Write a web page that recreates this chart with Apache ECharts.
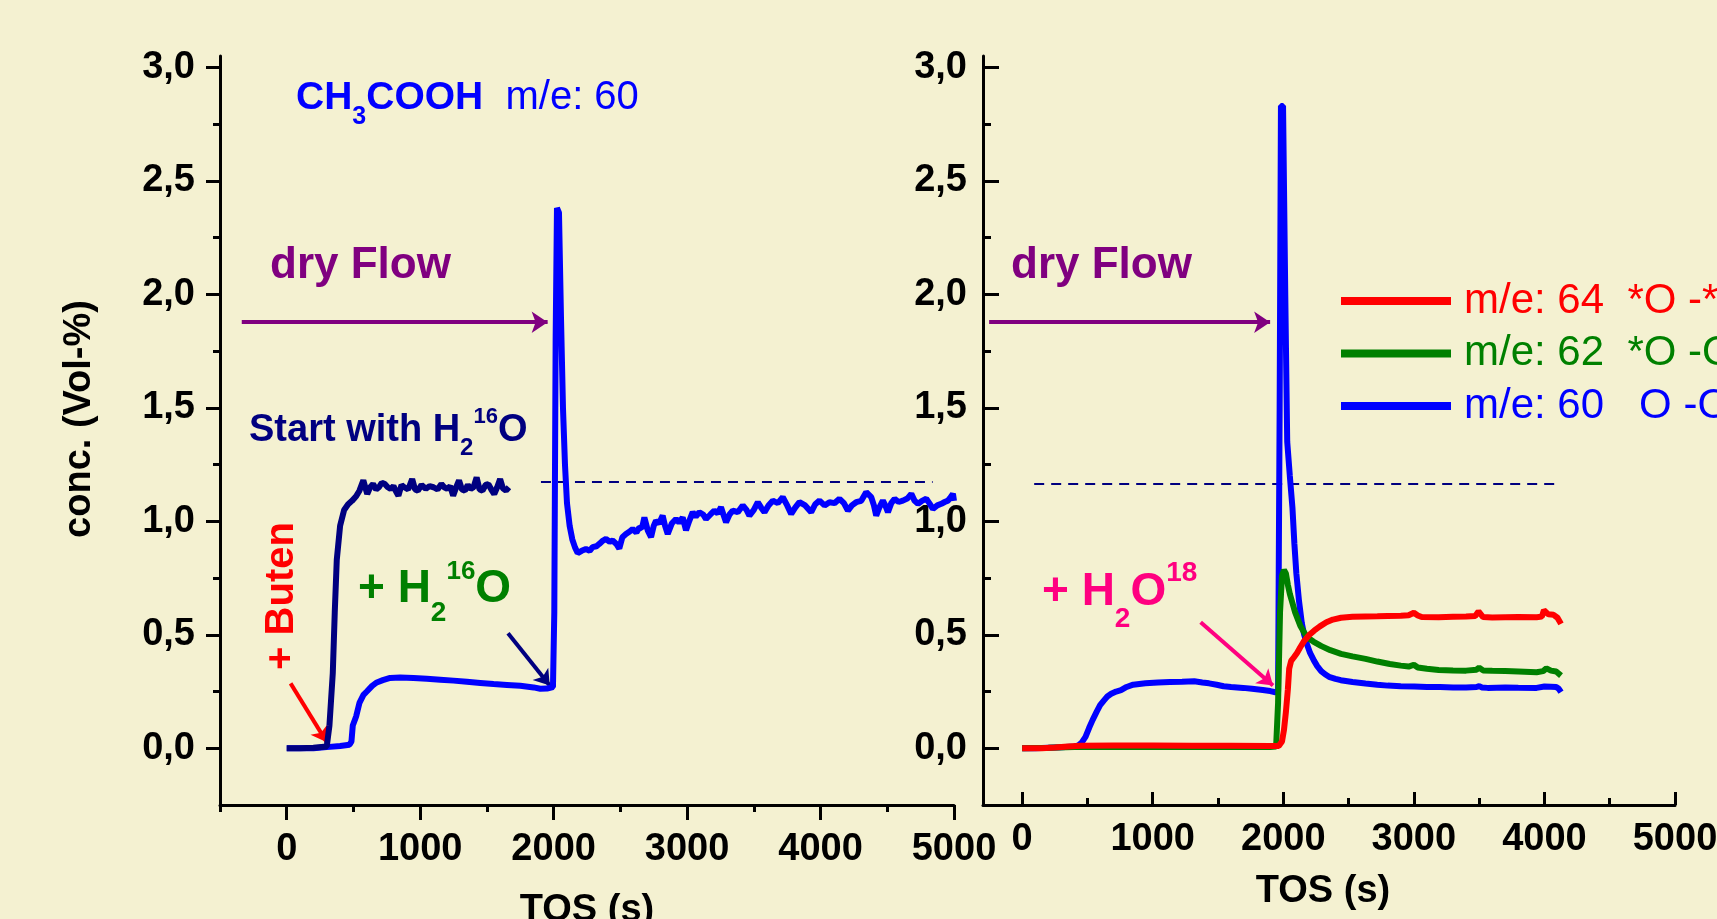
<!DOCTYPE html>
<html><head><meta charset="utf-8">
<script src="https://cdn.jsdelivr.net/npm/echarts@6/dist/echarts.min.js"></script>
<style>html,body{margin:0;padding:0;background:#F4F1D1;}#c{width:1717px;height:919px;}</style>
</head><body><div id="c"></div>
<script>
const FONT = '"Liberation Sans", Arial, Helvetica, sans-serif';

// ---- tick values ----
const yMajorTicks = [0, 0.5, 1, 1.5, 2, 2.5, 3];
const yMinorTicks = [0.25, 0.75, 1.25, 1.75, 2.25, 2.75];
const xMajorTicks = [0, 1000, 2000, 3000, 4000, 5000];
const xMinorTicksLeft = [-500, 500, 1500, 2500, 3500, 4500];
const xMinorTicksRight = [500, 1500, 2500, 3500, 4500];

// ---- left panel series ----
const leftStartH2O = [[0,0],[100,0.0],[200,0.002],[300,0.008],[320,0.1],[345,0.33],[360,0.6],[375,0.83],[400,0.98],[430,1.05],[460,1.075],[489,1.09],[520,1.11],[545,1.135],[574,1.18],[603,1.12],[625,1.15],[647,1.164],[670,1.14],[691,1.15],[712,1.17],[735,1.164],[757,1.15],[778,1.143],[800,1.155],[820,1.13],[837,1.113],[860,1.16],[881,1.15],[910,1.14],[940,1.186],[962,1.14],[983,1.135],[1010,1.16],[1042,1.143],[1070,1.155],[1100,1.15],[1130,1.14],[1159,1.164],[1180,1.15],[1203,1.143],[1225,1.155],[1247,1.113],[1270,1.15],[1291,1.18],[1313,1.14],[1335,1.135],[1357,1.16],[1379,1.143],[1400,1.15],[1423,1.193],[1445,1.14],[1467,1.135],[1490,1.16],[1511,1.164],[1533,1.14],[1555,1.12],[1577,1.15],[1599,1.186],[1620,1.145],[1643,1.135],[1665,1.15]];

const leftAcid60 = [[0,0],[100,0.0],[200,0.0],[300,0.005],[400,0.01],[470,0.015],[485,0.03],[495,0.1],[520,0.14],[545,0.2],[575,0.235],[600,0.25],[640,0.275],[675,0.29],[720,0.3],[775,0.31],[850,0.312],[950,0.31],[1050,0.306],[1150,0.302],[1250,0.298],[1350,0.293],[1450,0.288],[1550,0.283],[1650,0.279],[1750,0.275],[1850,0.268],[1900,0.262],[1950,0.263],[1995,0.27],[2005,0.6],[2015,1.8],[2025,2.38],[2040,2.36],[2055,1.9],[2070,1.5],[2085,1.25],[2100,1.08],[2120,0.98],[2140,0.92],[2160,0.885],[2180,0.86],[2210,0.87],[2242,0.878],[2270,0.87],[2292,0.886],[2320,0.89],[2342,0.9],[2370,0.915],[2392,0.922],[2420,0.91],[2442,0.915],[2470,0.9],[2492,0.88],[2515,0.93],[2542,0.944],[2570,0.955],[2592,0.966],[2620,0.95],[2642,0.973],[2662,0.97],[2680,1.017],[2705,0.96],[2730,0.93],[2750,0.98],[2767,1.003],[2790,0.99],[2817,1.025],[2835,0.98],[2855,0.944],[2885,0.99],[2917,1.01],[2940,0.995],[2967,1.017],[2992,0.96],[3015,1.0],[3042,1.04],[3065,1.02],[3092,1.04],[3120,1.03],[3142,1.01],[3175,1.03],[3204,1.047],[3230,1.035],[3254,1.062],[3272,1.03],[3292,0.996],[3318,1.03],[3342,1.047],[3380,1.04],[3417,1.07],[3445,1.05],[3467,1.025],[3500,1.05],[3530,1.084],[3555,1.06],[3580,1.04],[3610,1.07],[3642,1.091],[3680,1.08],[3717,1.106],[3750,1.07],[3780,1.032],[3810,1.06],[3842,1.084],[3885,1.07],[3930,1.04],[3960,1.075],[3992,1.091],[4030,1.07],[4067,1.084],[4105,1.08],[4142,1.099],[4175,1.08],[4205,1.047],[4235,1.07],[4267,1.084],[4305,1.09],[4342,1.128],[4380,1.106],[4400,1.07],[4417,1.025],[4440,1.06],[4467,1.091],[4485,1.07],[4505,1.04],[4530,1.08],[4555,1.099],[4585,1.085],[4617,1.091],[4650,1.1],[4680,1.121],[4705,1.09],[4730,1.077],[4760,1.09],[4792,1.099],[4815,1.08],[4842,1.055],[4875,1.07],[4905,1.077],[4930,1.085],[4955,1.091],[4980,1.11],[4992,1.121],[5000,1.09]];

// ---- right panel series ----
const rightM60 = [[0,0],[100,0],[200,0.002],[300,0.004],[400,0.008],[430,0.012],[457,0.026],[485,0.05],[513,0.09],[540,0.125],[570,0.16],[597,0.19],[625,0.21],[652,0.228],[682,0.24],[720,0.25],[757,0.256],[800,0.27],[850,0.28],[944,0.286],[1040,0.29],[1131,0.292],[1225,0.293],[1318,0.295],[1380,0.29],[1431,0.286],[1490,0.28],[1543,0.273],[1600,0.27],[1693,0.266],[1760,0.262],[1843,0.257],[1900,0.252],[1940,0.247],[1960,0.25],[1972,1.5],[1982,2.83],[1998,2.83],[2015,2.0],[2030,1.35],[2050,1.2],[2070,1.06],[2085,0.9],[2100,0.77],[2120,0.65],[2142,0.55],[2160,0.5],[2180,0.46],[2205,0.42],[2235,0.386],[2260,0.362],[2290,0.34],[2320,0.326],[2350,0.315],[2400,0.306],[2440,0.3],[2530,0.292],[2630,0.285],[2720,0.28],[2800,0.276],[2900,0.273],[3004,0.272],[3100,0.27],[3200,0.27],[3300,0.268],[3400,0.268],[3480,0.27],[3500,0.274],[3520,0.268],[3565,0.266],[3700,0.268],[3800,0.267],[3940,0.266],[4000,0.272],[4050,0.271],[4090,0.27],[4110,0.262],[4127,0.247]];

const rightM62 = [[0,0],[200,0.002],[400,0.005],[800,0.006],[1200,0.006],[1600,0.006],[1900,0.006],[1945,0.008],[1960,0.2],[1975,0.6],[1990,0.76],[2005,0.785],[2020,0.77],[2035,0.72],[2050,0.68],[2070,0.64],[2090,0.6],[2110,0.57],[2130,0.54],[2160,0.51],[2180,0.49],[2230,0.47],[2292,0.45],[2360,0.432],[2442,0.416],[2530,0.405],[2630,0.394],[2720,0.382],[2816,0.371],[2900,0.364],[2960,0.36],[3000,0.368],[3030,0.356],[3100,0.35],[3190,0.345],[3300,0.343],[3400,0.342],[3480,0.346],[3500,0.355],[3530,0.343],[3600,0.341],[3700,0.34],[3800,0.338],[3940,0.335],[3990,0.34],[4015,0.352],[4050,0.342],[4090,0.338],[4127,0.32]];

const rightM64 = [[0,0],[150,0],[250,0.003],[350,0.008],[450,0.011],[700,0.012],[1000,0.012],[1300,0.011],[1600,0.011],[1900,0.01],[1965,0.01],[1990,0.03],[2005,0.08],[2020,0.16],[2035,0.26],[2045,0.35],[2060,0.385],[2080,0.4],[2105,0.42],[2130,0.445],[2161,0.474],[2200,0.5],[2236,0.518],[2280,0.537],[2330,0.555],[2380,0.567],[2442,0.575],[2530,0.579],[2630,0.581],[2720,0.582],[2800,0.583],[2900,0.584],[2960,0.586],[3000,0.597],[3030,0.585],[3060,0.578],[3190,0.577],[3300,0.579],[3400,0.58],[3470,0.583],[3495,0.603],[3530,0.578],[3600,0.576],[3700,0.577],[3800,0.578],[3940,0.577],[3980,0.58],[3996,0.608],[4030,0.59],[4070,0.588],[4100,0.575],[4127,0.548]];

// ---- annotation arrows / reference lines (data coordinates) ----
const dryFlowArrowLeft = [[-337, 1.877], [1955, 1.877]];
const dryFlowArrowRight = [[-253, 1.877], [1899, 1.877]];
const butenArrow = [[29, 0.286], [301, 0.026]];
const h2o16Arrow = [[1658, 0.507], [1971, 0.276]];
const h2o18Arrow = [[1367, 0.555], [1921, 0.276]];
const refLineLeft = [[1905, 1.172], [4840, 1.172]];
const refLineRight = [[92, 1.166], [4075, 1.166]];

const legendNames = ['m/e: 64  *O -*OH', 'm/e: 62  *O -OH', 'm/e: 60   O -OH'];
const legendColors = ['#FF0000', '#008000', '#0000FF'];

const chart = echarts.init(document.getElementById('c'), null, {renderer: 'canvas'});

const tickLine = {color: '#000', width: 3};
function xAxisPair(grid, min, inside, majorLen, minorLen, margin, minorVals) {
  return [
    {type: 'value', gridIndex: grid, min: min, max: 5000, position: 'bottom',
     axisLine: {show: true, onZero: false, lineStyle: {color: '#000', width: 3}},
     axisTick: {show: true, inside: inside, length: majorLen, lineStyle: tickLine, customValues: xMajorTicks},
     axisLabel: {show: true, customValues: xMajorTicks, margin: margin, color: '#000', fontSize: 38,
                 fontWeight: 'bold', fontFamily: FONT, formatter: v => String(v)},
     splitLine: {show: false}, minorTick: {show: false}},
    {type: 'value', gridIndex: grid, min: min, max: 5000, position: 'bottom',
     axisLine: {show: false, onZero: false},
     axisTick: {show: true, inside: inside, length: minorLen, lineStyle: tickLine, customValues: minorVals},
     axisLabel: {show: false}, splitLine: {show: false}}
  ];
}
function yAxisPair(grid, inside, majorLen, minorLen, margin) {
  return [
    {type: 'value', gridIndex: grid, min: -0.25, max: 3.05, position: 'left',
     axisLine: {show: true, onZero: false, lineStyle: {color: '#000', width: 3}},
     axisTick: {show: true, inside: inside, length: majorLen, lineStyle: tickLine, customValues: yMajorTicks},
     axisLabel: {show: true, customValues: yMajorTicks, margin: margin, color: '#000', fontSize: 38,
                 fontWeight: 'bold', fontFamily: FONT, formatter: v => v.toFixed(1).replace('.', ',')},
     splitLine: {show: false}, minorTick: {show: false}},
    {type: 'value', gridIndex: grid, min: -0.25, max: 3.05, position: 'left',
     axisLine: {show: false, onZero: false},
     axisTick: {show: true, inside: inside, length: minorLen, lineStyle: tickLine, customValues: yMinorTicks},
     axisLabel: {show: false}, splitLine: {show: false}}
  ];
}

function lineSeries(name, data, color, xi, yi, width) {
  return {type: 'line', name: name, data: data, xAxisIndex: xi, yAxisIndex: yi,
          symbol: 'none', showSymbol: false, smooth: false, animation: false,
          itemStyle: {color: color}, lineStyle: {color: color, width: width, join: 'bevel'}};
}
function arrowSeries(coords, color, width, xi, yi, size, dashed) {
  return {type: 'lines', coordinateSystem: 'cartesian2d', xAxisIndex: xi, yAxisIndex: yi, silent: true,
          animation: false, symbol: dashed ? ['none', 'none'] : ['none', 'arrow'], symbolSize: size,
          lineStyle: {color: color, width: width, opacity: 1, curveness: 0, type: dashed ? [10, 7] : 'solid'},
          data: [{coords: coords}]};
}

function txt(x, y, text, rich, extra) {
  const el = Object.assign({type: 'text', x: x, y: y, silent: true, z: 100,
    style: {text: text, rich: rich, align: 'left', textAlign: 'left', verticalAlign: 'middle', textVerticalAlign: 'middle'}}, extra || {});
  return el;
}
function tok(size, weight, color, padding) {
  const t = {fontSize: size, fontWeight: weight, fontFamily: FONT, fill: color, verticalAlign: 'middle'};
  if (padding) t.padding = padding;
  return t;
}
function plain(x, y, text, size, weight, color, align, rot) {
  return {type: 'text', x: x, y: y, rotation: rot || 0, silent: true, z: 100,
    style: {text: text, fontSize: size, fontWeight: weight, fontFamily: FONT, fill: color,
            align: align, textAlign: align, verticalAlign: 'middle', textVerticalAlign: 'middle'}};
}

const option = {
  backgroundColor: '#F4F1D1',
  animation: false,
  grid: [
    {left: 220, right: 763, top: 56, bottom: 114, containLabel: false, outerBoundsMode: 'none'},
    {left: 983, right: 42, top: 56, bottom: 114, containLabel: false, outerBoundsMode: 'none'}
  ],
  xAxis: [].concat(
    xAxisPair(0, -500, false, 15, 7, 26, xMinorTicksLeft),
    xAxisPair(1, -300, true, 13, 7, 16, xMinorTicksRight)
  ),
  yAxis: [].concat(
    yAxisPair(0, false, 14, 7, 25),
    yAxisPair(1, true, 16, 8, 16)
  ),
  legend: {
    show: true, orient: 'vertical', left: 1341, top: 279, padding: 0,
    itemWidth: 110, itemHeight: 8, itemGap: 8.5, icon: 'rect', selectedMode: false,
    textStyle: {fontSize: 42, fontFamily: FONT, fontWeight: 'normal', lineHeight: 44, padding: [0, 0, 0, 8]},
    data: legendNames.map((n, i) => ({name: n, textStyle: {color: legendColors[i]}}))
  },
  series: [
    lineSeries('CH3COOH m/e: 60', leftAcid60, '#0000FF', 0, 0, 6),
    lineSeries('Start with H2 16O', leftStartH2O, '#000080', 0, 0, 6),
    lineSeries(legendNames[2], rightM60, '#0000FF', 2, 2, 6),
    lineSeries(legendNames[1], rightM62, '#008000', 2, 2, 6),
    lineSeries(legendNames[0], rightM64, '#FF0000', 2, 2, 6),
    arrowSeries(refLineLeft, '#000080', 2, 0, 0, 0, true),
    arrowSeries(refLineRight, '#000080', 2, 2, 2, 0, true),
    arrowSeries(dryFlowArrowLeft, '#800080', 4, 0, 0, 16, false),
    arrowSeries(dryFlowArrowRight, '#800080', 4, 2, 2, 16, false),
    arrowSeries(butenArrow, '#FF0000', 4, 0, 0, 15, false),
    arrowSeries(h2o16Arrow, '#000080', 4, 0, 0, 15, false),
    arrowSeries(h2o18Arrow, '#FF0080', 4, 2, 2, 15, false)
  ],
  graphic: {elements: [
    txt(296, 98, '{b|CH}{s|3}{b|COOH}{n|  m/e: 60}', {
      b: tok(39, 'bold', '#0000FF'), s: tok(25, 'bold', '#0000FF', [38, 0, 0, 0]), n: tok(40, 'normal', '#0000FF')}),
    plain(270, 266, 'dry Flow', 44, 'bold', '#800080', 'left'),
    plain(1011, 266, 'dry Flow', 44, 'bold', '#800080', 'left'),
    txt(249, 431, '{a|Start with H}{s|2}{p|16}{a|O}', {
      a: tok(38, 'bold', '#000080'), s: tok(24, 'bold', '#000080', [35, 0, 0, 0]), p: tok(22, 'bold', '#000080', [0, 0, 28, 0])}),
    txt(358, 589, '{a|+ H}{s|2}{p|16}{a|O}', {
      a: tok(46, 'bold', '#008000'), s: tok(28, 'bold', '#008000', [49, 0, 0, 0]), p: tok(26, 'bold', '#008000', [0, 0, 35, 0])}),
    txt(1042, 592, '{a|+ H}{s|2}{a|O}{p|18}', {
      a: tok(46, 'bold', '#FF0080'), s: tok(28, 'bold', '#FF0080', [55, 0, 0, 0]), p: tok(28, 'bold', '#FF0080', [0, 0, 37, 0])}),
    plain(282, 596, '+ Buten', 40, 'bold', '#FF0000', 'center', Math.PI / 2),
    plain(80, 419, 'conc. (Vol-%)', 38, 'bold', '#000000', 'center', Math.PI / 2),
    plain(587, 911, 'TOS (s)', 38, 'bold', '#000000', 'center'),
    plain(1323, 892, 'TOS (s)', 38, 'bold', '#000000', 'center')
  ]}
};
chart.setOption(option);
</script></body></html>
